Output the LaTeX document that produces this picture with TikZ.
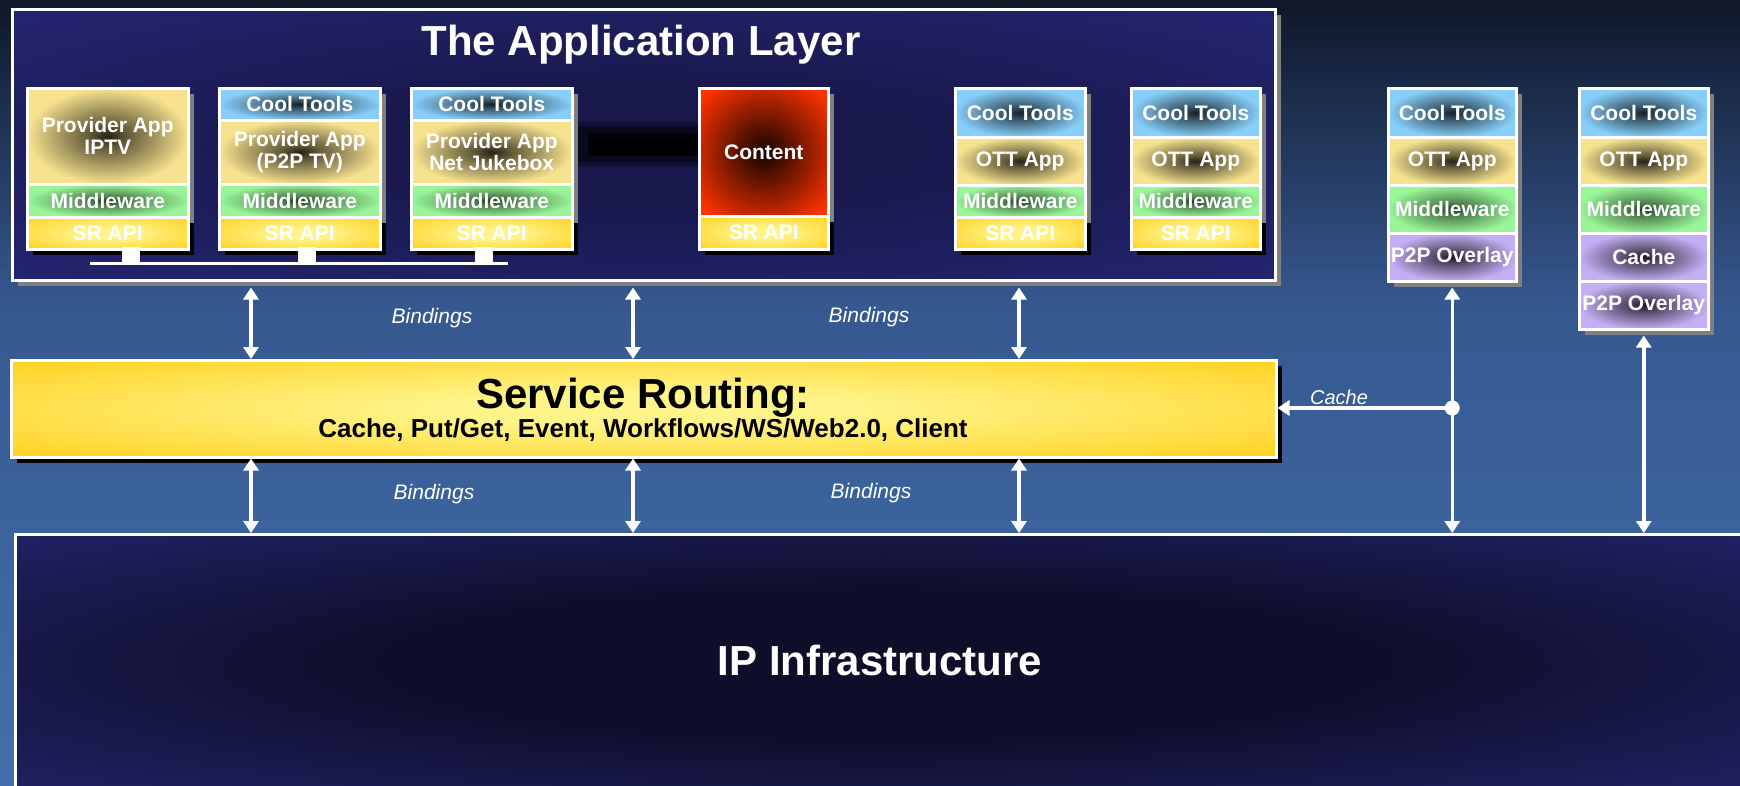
\documentclass[tikz,border=0pt]{standalone}
\usepackage{fontspec}
\setmainfont{Liberation Sans}
\usetikzlibrary{arrows.meta,shadows}

\definecolor{navy}{HTML}{262777}
\definecolor{navydark}{HTML}{18184C}
\definecolor{ipdark}{HTML}{0E0E2A}
\definecolor{cblue}{HTML}{87CEFA}
\definecolor{cyel}{HTML}{F7E28F}
\definecolor{cgreen}{HTML}{98F598}
\definecolor{cpurple}{HTML}{C4AFF4}
\definecolor{cred}{HTML}{FF3300}
\definecolor{gold}{HTML}{FFC908}
\definecolor{goldlight}{HTML}{FFF48A}
\definecolor{shgrey}{HTML}{808080}
\definecolor{bgA}{HTML}{0F1729}
\definecolor{bgB}{HTML}{1E3050}
\definecolor{bgC}{HTML}{36588F}
\definecolor{bgD}{HTML}{4470AD}

\pgfdeclareradialshading{glowblue}{\pgfpoint{0bp}{0bp}}{color(0bp)=(cblue!15!black); color(6bp)=(cblue!40!black); color(25bp)=(cblue); color(100bp)=(cblue)}
\pgfdeclareradialshading{glowyel}{\pgfpoint{0bp}{0bp}}{color(0bp)=(cyel!15!black); color(6bp)=(cyel!40!black); color(25bp)=(cyel); color(100bp)=(cyel)}
\pgfdeclareradialshading{glowgreen}{\pgfpoint{0bp}{0bp}}{color(0bp)=(cgreen!22!black); color(6bp)=(cgreen!50!black); color(25bp)=(cgreen); color(100bp)=(cgreen)}
\pgfdeclareradialshading{glowpurple}{\pgfpoint{0bp}{0bp}}{color(0bp)=(cpurple!15!black); color(6bp)=(cpurple!40!black); color(25bp)=(cpurple); color(100bp)=(cpurple)}
\pgfdeclareradialshading{glowred}{\pgfpoint{0bp}{0bp}}{color(0bp)=(cred!8!black); color(8bp)=(cred!30!black); color(32bp)=(cred); color(100bp)=(cred)}
\pgfdeclareradialshading{srglow}{\pgfpoint{0bp}{0bp}}{color(0bp)=(goldlight); color(8bp)=(goldlight); color(42bp)=(gold); color(100bp)=(gold)}
\pgfdeclareradialshading{appglow}{\pgfpoint{0bp}{0bp}}{color(0bp)=(navydark); color(10bp)=(navydark); color(40bp)=(navy); color(100bp)=(navy)}
\pgfdeclareradialshading{ipglow}{\pgfpoint{0bp}{0bp}}{color(0bp)=(ipdark); color(14bp)=(ipdark); color(42bp)=(navy); color(100bp)=(navy)}

\tikzset{
  lyr/.style={draw=white, line width=2.5pt, inner sep=0pt, anchor=north west,
    text=white, font=\bfseries\fontsize{21}{22}\selectfont, align=center},
  gsh/.style={drop shadow={shadow xshift=6pt, shadow yshift=-6pt, fill=shgrey, opacity=1}},
  bsh/.style={drop shadow={shadow xshift=6pt, shadow yshift=-6pt, fill=black, opacity=1}},
  bi/.style={draw=white, line width=3.5pt, <->},
  lbl/.style={text=white, font=\itshape\fontsize{21}{24}\selectfont, anchor=base},
  bigt/.style={font=\bfseries\fontsize{42}{48}\selectfont, anchor=base},
}
\newcommand\layerbox[7]{\node[lyr,#6,minimum width=#4pt,minimum height=#5pt] (#1) at (#2,#3) {#7};}

\begin{document}
\begin{tikzpicture}[x=1pt,y=-1pt,>={Triangle[width=15pt,length=12pt]}]
\useasboundingbox (0,0) rectangle (1740,785);
% background gradient in strips
\foreach \yy in {0,4,...,108} {
  \pgfmathtruncatemacro\pp{\yy/1.1}
  \fill[bgB!\pp!bgA] (0,\yy) rectangle (1740,\yy+4.6);
}
\foreach \yy in {112,116,...,296} {
  \pgfmathtruncatemacro\pp{(\yy-112)/1.88}
  \fill[bgC!\pp!bgB] (0,\yy) rectangle (1740,\yy+4.6);
}
\foreach \yy in {300,305,...,780} {
  \pgfmathtruncatemacro\pp{(\yy-300)/4.85}
  \fill[bgD!\pp!bgC] (0,\yy) rectangle (1740,\yy+5.6);
}

% application layer
\node[draw=white, line width=2.5pt, shading=appglow, gsh, anchor=north west,
  minimum width=1263pt, minimum height=271pt, inner sep=0pt] (app) at (11,8) {};
\node[bigt, text=white] (title) at (641,55) {The Application Layer};
\fill[black, opacity=0.25] (568,122) rectangle (698,167);
\fill[black, opacity=0.45] (578,127) rectangle (698,162);
\fill[black, opacity=0.85] (588,133) rectangle (698,156);

% stack 1
\layerbox{s1a}{26}{87}{161}{96}{shading=glowyel,gsh}{Provider App\\IPTV}
\layerbox{s1b}{26}{183}{161}{33}{shading=glowgreen,gsh}{Middleware}
\layerbox{s1c}{26}{216}{161}{32}{shading=srglow,bsh}{SR API}
% stack 2
\layerbox{s2a}{218}{87}{161}{32}{shading=glowblue,gsh}{Cool Tools}
\layerbox{s2b}{218}{119}{161}{64}{shading=glowyel,gsh}{Provider App\\(P2P TV)}
\layerbox{s2c}{218}{183}{161}{33}{shading=glowgreen,gsh}{Middleware}
\layerbox{s2d}{218}{216}{161}{32}{shading=srglow,bsh}{SR API}
% stack 3
\layerbox{s3a}{410}{87}{161}{32}{shading=glowblue,gsh}{Cool Tools}
\layerbox{s3b}{410}{119}{161}{64}{shading=glowyel,gsh}{Provider App\\Net Jukebox}
\layerbox{s3c}{410}{183}{161}{33}{shading=glowgreen,gsh}{Middleware}
\layerbox{s3d}{410}{216}{161}{32}{shading=srglow,bsh}{SR API}
% content
\layerbox{c1}{698}{87}{129}{128}{shading=glowred,gsh}{Content}
\layerbox{c2}{698}{215}{129}{33}{shading=srglow,bsh}{SR API}
% stack 5
\layerbox{s5a}{954}{87}{130}{49}{shading=glowblue,gsh}{Cool Tools}
\layerbox{s5b}{954}{136}{130}{48}{shading=glowyel,gsh}{OTT App}
\layerbox{s5c}{954}{184}{130}{32}{shading=glowgreen,gsh}{Middleware}
\layerbox{s5d}{954}{216}{130}{32}{shading=srglow,bsh}{SR API}
% stack 6
\layerbox{s6a}{1130}{87}{129}{49}{shading=glowblue,gsh}{Cool Tools}
\layerbox{s6b}{1130}{136}{129}{48}{shading=glowyel,gsh}{OTT App}
\layerbox{s6c}{1130}{184}{129}{32}{shading=glowgreen,gsh}{Middleware}
\layerbox{s6d}{1130}{216}{129}{32}{shading=srglow,bsh}{SR API}
% stack 7
\layerbox{s7a}{1387}{87}{128}{49}{shading=glowblue,gsh}{Cool Tools}
\layerbox{s7b}{1387}{136}{128}{48}{shading=glowyel,gsh}{OTT App}
\layerbox{s7c}{1387}{184}{128}{48}{shading=glowgreen,gsh}{Middleware}
\layerbox{s7d}{1387}{232}{128}{48}{shading=glowpurple,gsh}{P2P Overlay}
% stack 8
\layerbox{s8a}{1578}{87}{129}{49}{shading=glowblue,gsh}{Cool Tools}
\layerbox{s8b}{1578}{136}{129}{48}{shading=glowyel,gsh}{OTT App}
\layerbox{s8c}{1578}{184}{129}{48}{shading=glowgreen,gsh}{Middleware}
\layerbox{s8d}{1578}{232}{129}{48}{shading=glowpurple,gsh}{Cache}
\layerbox{s8e}{1578}{280}{129}{48}{shading=glowpurple,gsh}{P2P Overlay}

% bus under provider stacks
\coordinate (busL) at (90,263);
\coordinate (busR) at (508,263);
\draw[white, line width=3pt] (busL) -- (busR);
\node[fill=white, minimum width=18pt, minimum height=16pt, inner sep=0pt, anchor=north] (t1) at (131,247) {};
\node[fill=white, minimum width=18pt, minimum height=16pt, inner sep=0pt, anchor=north] (t2) at (307,247) {};
\node[fill=white, minimum width=18pt, minimum height=16pt, inner sep=0pt, anchor=north] (t3) at (484,247) {};

% service routing
\node[draw=white, line width=2.5pt, shading=srglow, bsh, anchor=north west,
  minimum width=1265pt, minimum height=97pt, inner sep=0pt] (sr) at (10,359) {};
\node[bigt, text=black] (srt) at (643,408) {Service Routing:};
\node[font=\bfseries\fontsize{26}{30}\selectfont, anchor=base, text=black] (srs) at (643,437) {Cache, Put/Get, Event, Workflows/WS/Web2.0, Client};

% IP infrastructure
\node[draw=white, line width=2.5pt, shading=ipglow, anchor=north west,
  minimum width=1740pt, minimum height=260pt, inner sep=0pt] (ip) at (14,533) {};
\node[bigt, text=white] (ipt) at (880,675) {IP Infrastructure};

% bindings arrows
\coordinate (b1) at (251,0);
\coordinate (b2) at (633,0);
\coordinate (b3) at (1019,0);
\draw[bi] ([yshift=-6pt]app.south -| b1) -- (sr.north -| b1);
\draw[bi] ([yshift=-6pt]app.south -| b2) -- (sr.north -| b2);
\draw[bi] ([yshift=-6pt]app.south -| b3) -- (sr.north -| b3);
\draw[bi] (sr.south -| b1) -- (ip.north -| b1);
\draw[bi] (sr.south -| b2) -- (ip.north -| b2);
\draw[bi] (sr.south -| b3) -- (ip.north -| b3);
\node[lbl] (bd1) at (432,323) {Bindings};
\node[lbl] (bd2) at (869,322) {Bindings};
\node[lbl] (bd3) at (434,499) {Bindings};
\node[lbl] (bd4) at (871,498) {Bindings};

% overlay arrows
\draw[bi] ([yshift=-5pt]s7d.south) -- (s7d.south |- ip.north);
\draw[bi] ([yshift=-5pt]s8e.south) -- (s8e.south |- ip.north);
\node[circle, fill=white, minimum size=15pt, inner sep=0pt] (dot) at (s7d.south |- 0,408) {};
\draw[draw=white, line width=3.5pt, ->] (dot.center) -- (dot -| sr.east);
\node[lbl, font=\itshape\fontsize{20}{24}\selectfont] (cachel) at (1339,404) {Cache};
\end{tikzpicture}
\end{document}
